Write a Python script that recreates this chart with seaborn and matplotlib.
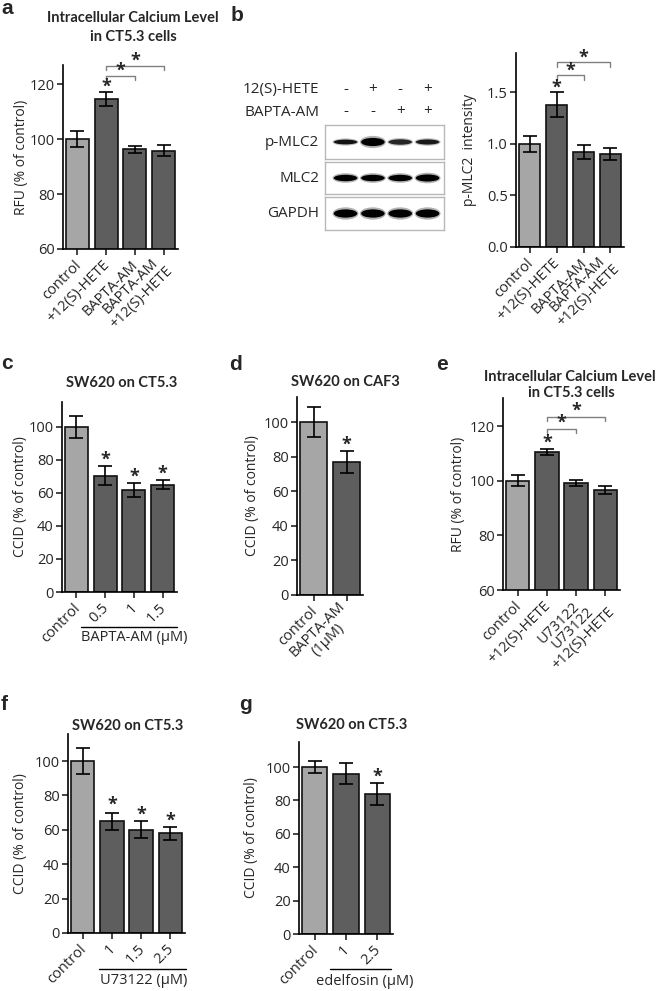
import matplotlib
matplotlib.use("Agg")
import matplotlib.pyplot as plt
import matplotlib.transforms as mtransforms
from matplotlib.patches import Ellipse
import seaborn as sns
import pandas as pd

# ---- data ----
a_labels = ["control", "+12(S)-HETE", "BAPTA-AM", "BAPTA-AM\n+12(S)-HETE"]
a_means = [100, 114.5, 96.3, 95.8]
a_errs = [2.8, 2.5, 1.2, 2.0]

b_labels = ["control", "+12(S)-HETE", "BAPTA-AM", "BAPTA-AM\n+12(S)-HETE"]
b_means = [1.0, 1.38, 0.92, 0.90]
b_errs = [0.08, 0.12, 0.07, 0.06]

c_labels = ["control", "0.5", "1", "1.5"]
c_means = [100, 70.5, 61.5, 65]
c_errs = [6.5, 6.0, 4.3, 2.5]

d_labels = ["control", "BAPTA-AM\n(1\u03bcM)"]
d_means = [100, 77]
d_errs = [8.5, 6.5]

e_labels = ["control", "+12(S)-HETE", "U73122", "U73122\n+12(S)-HETE"]
e_means = [100, 110.5, 99.2, 96.5]
e_errs = [2.0, 1.0, 1.0, 1.5]

f_labels = ["control", "1", "1.5", "2.5"]
f_means = [100, 65, 60, 58]
f_errs = [7.5, 5.0, 5.0, 3.8]

g_labels = ["control", "1", "2.5"]
g_means = [100, 96, 84]
g_errs = [3.8, 6.2, 6.5]

# western blot (band darkness / thickness per lane)
blot_rows = ["p-MLC2", "MLC2", "GAPDH"]
blot_dark = [[0.85, 1.0, 0.7, 0.8], [1, 1, 1, 1], [1, 1, 1, 1]]
blot_thick = [[0.14, 0.24, 0.16, 0.15], [0.2, 0.2, 0.2, 0.22], [0.25, 0.25, 0.25, 0.25]]
hete_sign = ["-", "+", "-", "+"]
bapta_sign = ["-", "-", "+", "+"]

LIGHT = "#a6a6a6"
DARK = "#5e5e5e"
W, H = 661, 991

sns.set_theme(style="ticks")
plt.rcParams["font.family"] = ["Open Sans", "DejaVu Sans"]
plt.rcParams["axes.linewidth"] = 1.2
plt.rcParams["xtick.major.width"] = 1.2
plt.rcParams["ytick.major.width"] = 1.2
plt.rcParams["xtick.major.size"] = 4
plt.rcParams["ytick.major.size"] = 4
plt.rcParams["axes.edgecolor"] = "black"

fig = plt.figure(figsize=(W / 100, H / 100), dpi=100)


def axes_px(l, t, r, b):
    return fig.add_axes([l / W, 1 - b / H, (r - l) / W, (b - t) / H])


def fig_text(x, y, s, **kw):
    fig.text(x / W, 1 - y / H, s, **kw)


def bar_panel(ax, labels, means, errs, ylim, yticks, ylabel, ylab_x):
    df = pd.DataFrame({"group": labels, "value": means})
    colors = [LIGHT] + [DARK] * (len(labels) - 1)
    sns.barplot(data=df, x="group", y="value", hue="group", palette=colors,
                legend=False, width=0.8, edgecolor="#111111", linewidth=1.2,
                errorbar=None, ax=ax)
    ax.errorbar(range(len(labels)), means, yerr=errs, fmt="none", ecolor="black",
                elinewidth=1.2, capsize=5, capthick=1.2, zorder=5)
    ax.set_xlim(-0.5, len(labels) - 0.5)
    ax.set_ylim(*ylim)
    ax.set_yticks(yticks)
    ax.tick_params(axis="y", labelsize=10.5, pad=2)
    ax.set_xticks(range(len(labels)))
    ax.set_xticklabels(labels, rotation=45, ha="right", va="center_baseline",
                       rotation_mode="anchor", fontsize=10.5, multialignment="center",
                       linespacing=1.0)
    ax.tick_params(axis="x", pad=5)
    ax.set_xlabel("")
    ax.set_ylabel(ylabel, fontsize=10, va="center")
    ax.yaxis.set_label_coords(ylab_x, 0.5)
    sns.despine(ax=ax)


def stars(ax, xs, ys):
    for x, y in zip(xs, ys):
        ax.text(x, y, "*", ha="center", va="center", fontsize=13,
                fontweight="bold", clip_on=False)


def bracket(ax, x0, x1, y, drop):
    ax.plot([x0, x0, x1, x1], [y - drop, y, y, y - drop], color="#808080",
            lw=1, clip_on=False)


def group_line(ax, x0, x1, text, tx, ly, ty):
    tr = mtransforms.blended_transform_factory(ax.transData, ax.transAxes)
    ax.plot([x0, x1], [ly, ly], color="black", lw=1, transform=tr, clip_on=False)
    ax.text(tx, ty, text, transform=tr, ha="center", va="center", fontsize=10.5)


title_kw = dict(ha="center", va="center", fontsize=10.5, fontweight="bold",
                family=["Lato", "DejaVu Sans"])
letter_kw = dict(ha="left", va="baseline", fontsize=15, fontweight="bold",
                 family=["Liberation Sans", "DejaVu Sans"])

# ---- panel a ----
ax_a = axes_px(63, 65, 178, 249)
bar_panel(ax_a, a_labels, a_means, a_errs, (60, 127), [60, 80, 100, 120],
          "RFU (% of control)", -0.36)
stars(ax_a, [1], [119.2])
bracket(ax_a, 1, 2, 123, 1.5)
bracket(ax_a, 1, 3, 126.7, 1.5)
stars(ax_a, [1.5, 2.0], [124.8, 128.5])
fig_text(133, 18, "Intracellular Calcium Level", **title_kw)
fig_text(133, 37, "in CT5.3 cells", **title_kw)
fig_text(1, 14, "a", **letter_kw)

# ---- panel b: blot ----
fig_text(231, 21, "b", **letter_kw)
box_px = [(125, 159), (162, 194), (197, 230)]
blot_axes = []
for i, (row, (t, b)) in enumerate(zip(blot_rows, box_px)):
    bax = axes_px(325, t, 444, b)
    bax.set_xlim(-0.75, 3.6)
    bax.set_ylim(-1, 1)
    bax.set_xticks([])
    bax.set_yticks([])
    for sp in bax.spines.values():
        sp.set_color("#b8b8b8")
        sp.set_linewidth(1)
    for lane in range(4):
        v = 1 - blot_dark[i][lane]
        h = blot_thick[i][lane] * 2
        bax.add_patch(Ellipse((lane, 0), 0.95, h * 1.5, color=(v, v, v), alpha=0.3, lw=0))
        bax.add_patch(Ellipse((lane, 0), 0.86, h, color=(v * 0.5, v * 0.5, v * 0.5), lw=0))
    bax.text(-0.05, 0.5, row, transform=bax.transAxes, ha="right", va="center", fontsize=11)
    blot_axes.append(bax)

top = blot_axes[0]
trb = mtransforms.blended_transform_factory(top.transData, top.transAxes)
top.text(-0.05, 2.03, "12(S)-HETE", transform=top.transAxes, ha="right", va="center", fontsize=11)
top.text(-0.05, 1.38, "BAPTA-AM", transform=top.transAxes, ha="right", va="center", fontsize=11)
for lane in range(4):
    top.text(lane, 2.05, hete_sign[lane], transform=trb, ha="center", va="center", fontsize=11)
    top.text(lane, 1.40, bapta_sign[lane], transform=trb, ha="center", va="center", fontsize=11)

# ---- panel b: bars ----
ax_b = axes_px(516, 53, 624, 247)
bar_panel(ax_b, b_labels, b_means, b_errs, (0, 1.88), [0, 0.5, 1.0, 1.5],
          "p-MLC2  intensity", -0.43)
ax_b.set_yticklabels(["0.0", "0.5", "1.0", "1.5"])
stars(ax_b, [1], [1.54])
bracket(ax_b, 1, 2, 1.67, 0.05)
bracket(ax_b, 1, 3, 1.79, 0.05)
stars(ax_b, [1.5, 2.0], [1.71, 1.83])

# ---- panel c ----
ax_c = axes_px(62, 402, 177, 592)
bar_panel(ax_c, c_labels, c_means, c_errs, (0, 115), [0, 20, 40, 60, 80, 100],
          "CCID (% of control)", -0.36)
stars(ax_c, [1, 2, 3], [80, 69.5, 71.5])
group_line(ax_c, 0.15, 3.5, "BAPTA-AM (\u03bcM)", 2.0, -0.184, -0.24)
fig_text(122, 383, "SW620 on CT5.3", **title_kw)
fig_text(1, 369, "c", **letter_kw)

# ---- panel d ----
ax_d = axes_px(297, 397, 363, 595)
bar_panel(ax_d, d_labels, d_means, d_errs, (0, 114.5), [0, 20, 40, 60, 80, 100],
          "CCID (% of control)", -0.68)
stars(ax_d, [1], [87])
fig_text(345, 382, "SW620 on CAF3", **title_kw)
fig_text(229, 370, "d", **letter_kw)

# ---- panel e ----
ax_e = axes_px(503, 398, 620, 590)
bar_panel(ax_e, e_labels, e_means, e_errs, (60, 130.3), [60, 80, 100, 120],
          "RFU (% of control)", -0.38)
stars(ax_e, [1], [114])
bracket(ax_e, 1, 2, 119, 1.5)
bracket(ax_e, 1, 3, 123.4, 1.5)
stars(ax_e, [1.5, 2.0], [121.3, 125.6])
fig_text(570, 377, "Intracellular Calcium Level", **title_kw)
fig_text(571, 393, "in CT5.3 cells", **title_kw)
fig_text(436, 370, "e", **letter_kw)

# ---- panel f ----
ax_f = axes_px(68, 734, 185, 933)
bar_panel(ax_f, f_labels, f_means, f_errs, (0, 115.7), [0, 20, 40, 60, 80, 100],
          "CCID (% of control)", -0.41)
stars(ax_f, [1, 2, 3], [74.4, 69, 65])
group_line(ax_f, 0.55, 3.55, "U73122 (\u03bcM)", 2.1, -0.181, -0.238)
fig_text(128, 726, "SW620 on CT5.3", **title_kw)
fig_text(1, 710, "f", **letter_kw)

# ---- panel g ----
ax_g = axes_px(299, 742, 393, 934)
bar_panel(ax_g, g_labels, g_means, g_errs, (0, 115), [0, 20, 40, 60, 80, 100],
          "CCID (% of control)", -0.5)
stars(ax_g, [2], [94])
group_line(ax_g, 0.49, 2.44, "edelfosin (\u03bcM)", 1.6, -0.182, -0.245)
fig_text(352, 725, "SW620 on CT5.3", **title_kw)
fig_text(239, 710, "g", **letter_kw)

fig.savefig("out.png", dpi=100, facecolor="white")
